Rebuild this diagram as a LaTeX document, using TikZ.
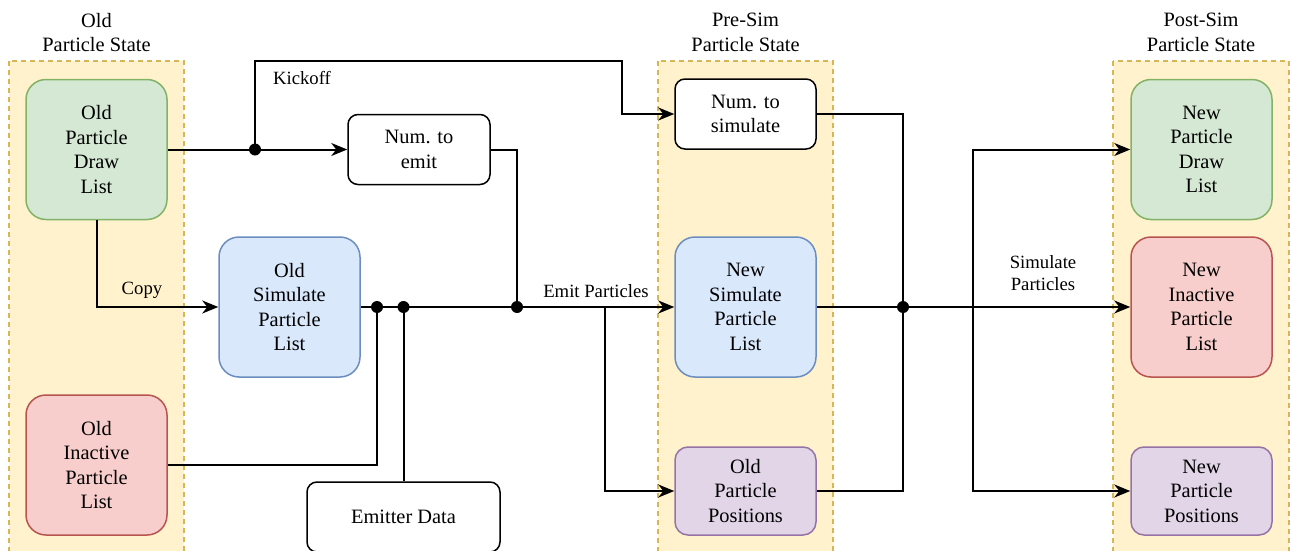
\documentclass[tikz,border=0pt]{standalone}
\usepackage{fontspec}
\setmainfont{Liberation Serif}
\usetikzlibrary{arrows.meta}

\definecolor{grfill}{HTML}{D5E8D4}\definecolor{grline}{HTML}{82B366}
\definecolor{blfill}{HTML}{DAE8FC}\definecolor{blline}{HTML}{6C8EBF}
\definecolor{rdfill}{HTML}{F8CECC}\definecolor{rdline}{HTML}{B85450}
\definecolor{pufill}{HTML}{E1D5E7}\definecolor{puline}{HTML}{9673A6}
\definecolor{yefill}{HTML}{FFF2CC}\definecolor{yeline}{HTML}{D6B656}

\tikzset{
  box/.style={rectangle, draw, line width=1.5pt, align=center, inner sep=0pt,
    font=\fontsize{20.4}{24.5}\selectfont},
  bigbox/.style={box, minimum width=141pt, minimum height=140pt, rounded corners=20pt},
  smallbox/.style={box, fill=white, draw=black, minimum height=70pt, rounded corners=10pt},
  posbox/.style={box, fill=pufill, draw=puline, minimum width=141pt, minimum height=88pt, rounded corners=13pt},
  greenbox/.style={bigbox, fill=grfill, draw=grline},
  bluebox/.style={bigbox, fill=blfill, draw=blline},
  redbox/.style={bigbox, fill=rdfill, draw=rdline},
  group/.style={fill=yefill, draw=yeline, line width=1.5pt, dash pattern=on 5pt off 4pt},
  title/.style={align=center, font=\fontsize{20.4}{24.5}\selectfont},
  lbl/.style={align=center, font=\fontsize{18.7}{22.4}\selectfont},
  wire/.style={draw=black, line width=2pt},
  feed/.style={wire, -{Stealth[length=16pt,width=13pt,inset=5pt]}},
  junction/.style={circle, fill=black, inner sep=0pt, minimum size=12pt},
}

\begin{document}
\begin{tikzpicture}[x=1pt, y=-1pt]
\useasboundingbox (0,0) rectangle (1290,551);

% state groups
\path[group] (9,61) rectangle (184,565);
\path[group] (658,61) rectangle (833,565);
\path[group] (1113,61) rectangle (1289,565);

\node[title] (t1) at (96.5,32.5) {Old\\Particle State};
\node[title] (t2) at (745.5,32.5) {Pre-Sim\\Particle State};
\node[title] (t3) at (1201,32.5) {Post-Sim\\Particle State};

% old state
\node[greenbox] (odl) at (96.5,149.5) {Old\\Particle\\Draw\\List};
\node[redbox] (oil) at (96.5,465) {Old\\Inactive\\Particle\\List};
\node[bluebox] (osl) at (289.5,307) {Old\\Simulate\\Particle\\List};

% inputs
\node[smallbox, minimum width=142pt] (nte) at (419,149.5) {Num. to\\emit};
\node[smallbox, minimum width=193pt] (emd) at (403.5,517) {Emitter Data};

% pre-sim state
\node[smallbox, minimum width=141pt] (nts) at (745.5,114) {Num. to\\simulate};
\node[bluebox] (nsl) at (745.5,307) {New\\Simulate\\Particle\\List};
\node[posbox] (opp) at (745.5,491) {Old\\Particle\\Positions};

% post-sim state
\node[greenbox] (ndl) at (1201.5,149.5) {New\\Particle\\Draw\\List};
\node[redbox] (nil) at (1201.5,307) {New\\Inactive\\Particle\\List};
\node[posbox] (npp) at (1201.5,491) {New\\Particle\\Positions};

% routing points
\coordinate (k) at (255,149.5);
\coordinate (ktop) at (255,61);
\coordinate (kturn) at (622,61);
\coordinate (j1) at (377,307);
\coordinate (j2) at (403.5,307);
\coordinate (j3) at (517,307);
\coordinate (b1) at (605,307);
\coordinate (j4) at (903,307);
\coordinate (b2) at (973,307);

% old state -> pre-sim
\draw[feed] (odl.east) -- (nte.west);
\draw[feed] (k) -- (ktop) -- (kturn) |- (nts.west);
\draw[feed] (odl.south) |- (osl.west);
\draw[feed] (osl.east) -- (nsl.west);
\draw[wire] (oil.east) -| (j1);
\draw[wire] (emd.north) -- (j2);
\draw[wire] (nte.east) -| (j3);
\draw[feed] (b1) |- (opp.west);

% pre-sim -> post-sim
\draw[wire] (nts.east) -| (j4);
\draw[wire] (opp.east) -| (j4);
\draw[feed] (nsl.east) -- (nil.west);
\draw[feed] (b2) |- (ndl.west);
\draw[feed] (b2) |- (npp.west);

\foreach \p in {k,j1,j2,j3,j4} \node[junction] at (\p) {};

% edge labels
\node[lbl] (lk) at (302,78) {Kickoff};
\node[lbl] (lc) at (142,290) {Copy};
\node[lbl] (le) at (596,291) {Emit Particles};
\node[lbl] (ls) at (1043,273) {Simulate\\Particles};
\end{tikzpicture}
\end{document}
